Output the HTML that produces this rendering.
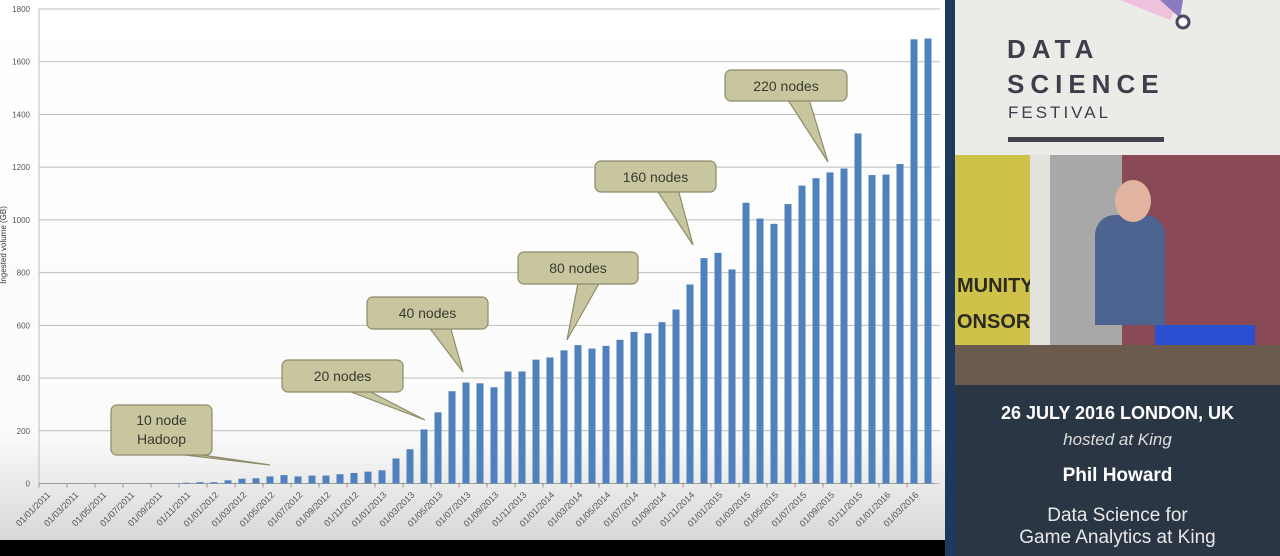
<!DOCTYPE html>
<html><head><meta charset="utf-8"><style>
html,body{margin:0;padding:0;width:1280px;height:556px;overflow:hidden;background:#000;font-family:"Liberation Sans",sans-serif}
#chart{position:absolute;left:0;top:0;width:945px;height:540px}
#panel{position:absolute;left:945px;top:0;width:335px;height:556px;background:#1d3a5e}
</style></head><body>
<svg id="chart" width="945" height="540" xmlns="http://www.w3.org/2000/svg">
<defs><linearGradient id="bg" x1="0" y1="0" x2="0" y2="1"><stop offset="0" stop-color="#ffffff"/><stop offset="0.8" stop-color="#fbfbfb"/><stop offset="1" stop-color="#d8d8d8"/></linearGradient></defs>
<rect width="945" height="540" fill="url(#bg)"/>
<g id="grid"></g><g id="bars"></g><g id="xlabels"></g><g id="callouts"></g>
<text transform="translate(6,245) rotate(-90)" text-anchor="middle" font-size="8" fill="#333">Ingested volume (GB)</text>
</svg>
<div id="panel">
 <div style="position:absolute;left:10px;top:0;width:325px;height:155px;background:#ebebe8">
  <svg width="325" height="155" style="position:absolute;left:0;top:0"><polygon points="165,0 215,20 225,0" fill="#efc1dc"/><polygon points="205,0 225,18 228,0" fill="#8a7bc0"/><circle cx="228" cy="22" r="6" fill="#fff" stroke="#4a4560" stroke-width="3"/><rect x="53" y="137" width="156" height="5" fill="#44424f"/></svg>
  <div style="position:absolute;left:52px;top:32px;font-size:26px;font-weight:bold;letter-spacing:6px;color:#3f3d4a;line-height:35px">DATA<br>SCIENCE</div>
  <div style="position:absolute;left:53px;top:103px;font-size:17px;letter-spacing:3px;color:#3f3d4a">FESTIVAL</div>
 </div>
 <div style="position:absolute;left:10px;top:155px;width:325px;height:230px;background:#8a4a55;overflow:hidden">
  <div style="position:absolute;left:0;top:0;width:75px;height:230px;background:#cfc24a"></div>
  <div style="position:absolute;left:2px;top:113px;font-size:20px;font-weight:bold;color:#2a2a20;line-height:36px">MUNITY<br>ONSOR</div>
  <div style="position:absolute;left:75px;top:0;width:20px;height:230px;background:#e4e2dc"></div>
  <div style="position:absolute;left:95px;top:0;width:72px;height:230px;background:#a9a7a8"></div>
  <div style="position:absolute;left:140px;top:60px;width:70px;height:110px;background:#4d6390;border-radius:20px 20px 0 0"></div>
  <div style="position:absolute;left:160px;top:25px;width:36px;height:42px;background:#e0b4a0;border-radius:50%"></div>
  <div style="position:absolute;left:200px;top:170px;width:100px;height:50px;background:#2a4fd0"></div>
  <div style="position:absolute;left:0;top:190px;width:325px;height:40px;background:#6b5a4e"></div>
 </div>
 <div style="position:absolute;left:10px;top:385px;width:325px;height:171px;background:#2b3644;color:#fff;text-align:center">
  <div style="margin-top:18px;font-size:18px;font-weight:bold">26 JULY 2016 LONDON, UK</div>
  <div style="margin-top:6px;font-size:17px;font-style:italic;color:#ddd">hosted at King</div>
  <div style="margin-top:15px;font-size:19px;font-weight:bold">Phil Howard</div>
  <div style="margin-top:18px;font-size:19px;line-height:22px;color:#e8e8e8">Data Science for<br>Game Analytics at King</div>
 </div>
</div>
<script>
const yTicks=[0,200,400,600,800,1000,1200,1400,1600,1800];
const values=[0,0,0,0,0,0,0,0,0,0,3,5,5,12,18,20,27,32,27,30,30,35,40,45,50,95,130,205,270,350,383,380,365,425,425,470,478,505,525,512,522,545,575,570,612,660,755,855,875,812,1065,1005,985,1060,1130,1158,1180,1195,1328,1170,1172,1212,1685,1688];
const xLabels=["01/01/2011","01/03/2011","01/05/2011","01/07/2011","01/09/2011","01/11/2011","01/01/2012","01/03/2012","01/05/2012","01/07/2012","01/09/2012","01/11/2012","01/01/2013","01/03/2013","01/05/2013","01/07/2013","01/09/2013","01/11/2013","01/01/2014","01/03/2014","01/05/2014","01/07/2014","01/09/2014","01/11/2014","01/01/2015","01/03/2015","01/05/2015","01/07/2015","01/09/2015","01/11/2015","01/01/2016","01/03/2016"];
const callouts=[{t:["10 node","Hadoop"],x:111,y:405,w:101,h:50,px:270,py:465},{t:["20 nodes"],x:282,y:360,w:121,h:32,px:425,py:420},{t:["40 nodes"],x:367,y:297,w:121,h:32,px:463,py:372},{t:["80 nodes"],x:518,y:252,w:120,h:32,px:567,py:340},{t:["160 nodes"],x:595,y:161,w:121,h:31,px:693,py:245},{t:["220 nodes"],x:725,y:70,w:122,h:31,px:828,py:162}];
const NS="http://www.w3.org/2000/svg";
const X0=39,BW=14,Y0=483.5,YMAX=1800,YTOP=9;
const y=v=>Y0-(v/YMAX)*(Y0-YTOP);
const x=i=>X0+BW*i+BW/2;
function mk(tag,attrs,parent){const e=document.createElementNS(NS,tag);for(const k in attrs)e.setAttribute(k,attrs[k]);parent.appendChild(e);return e;}
const g=document.getElementById('grid');
yTicks.forEach(v=>{
 const l=mk('line',{x1:X0,x2:940,y1:y(v),y2:y(v),stroke:'#bdbdbd','stroke-width':1},g);
 
 
 const t=mk('text',{x:30,y:y(v)+3,'text-anchor':'end','font-size':8,fill:'#555'},g);t.textContent=v;
 
 
});
const ax=mk('line',{x1:X0,x2:X0,y1:YTOP,y2:Y0,stroke:'#bdbdbd'},g);


const xa=mk('line',{x1:X0,x2:X0+BW*values.length,y1:Y0,y2:Y0,stroke:'#999'},g);


const b=document.getElementById('bars');
values.forEach((v,i)=>{
 if(v<=0)return;
 const r=mk('rect',{x:x(i)-3.5,y:y(v),width:7,height:Y0-y(v),fill:'#4f81bd'},b);
 
 
});
const xl=document.getElementById('xlabels');
xLabels.forEach((s,j)=>{
 const i=j*2;
 mk('line',{x1:X0+BW*i,x2:X0+BW*i,y1:Y0,y2:Y0+4,stroke:'#999'},xl);
 const t=mk('text',{transform:`translate(${x(i)+5},${Y0+12}) rotate(-45)`,'text-anchor':'end','font-size':9,fill:'#555'},xl);t.textContent=s;
 
 
});
const cg=document.getElementById('callouts');
callouts.forEach(c=>{
 const gg=mk('g',{},cg);
 
 
 const bx=c.x+c.w*0.62,by=c.y+c.h;
 mk('polygon',{points:`${bx-14},${by-3} ${bx+8},${by-3} ${c.px},${c.py}`,fill:'#c8c69e',stroke:'#8d8b6a','stroke-width':1.2},gg);
 mk('rect',{x:c.x,y:c.y,width:c.w,height:c.h,rx:6,fill:'#c8c69e',stroke:'#8d8b6a','stroke-width':1.2},gg);
 mk('rect',{x:bx-13,y:by-4,width:20,height:3,fill:'#c8c69e'},gg);
 c.t.forEach((s,k)=>{const t=mk('text',{x:c.x+c.w/2,y:c.y+(c.t.length==1?21:20+k*19),'text-anchor':'middle','font-size':14,fill:'#3a3a30'},gg);t.textContent=s;});
});
</script>
</body></html>
